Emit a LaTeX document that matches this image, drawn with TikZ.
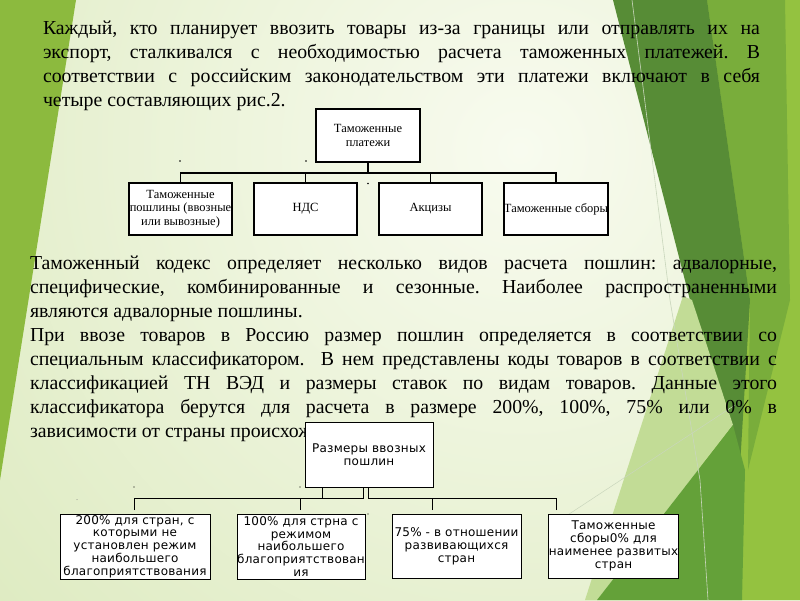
\documentclass[tikz,border=0pt]{standalone}
\usepackage{fontspec}
\setmainfont{Liberation Serif}
\newfontfamily\dejavu[LetterSpace=2]{DejaVu Sans}
\definecolor{bgin}{HTML}{F8FBEF}
\definecolor{bgout}{HTML}{D3E4AE}
\definecolor{leafL}{HTML}{8CBA3E}
\definecolor{darkG}{HTML}{578C36}
\definecolor{medG}{HTML}{79AD3B}
\definecolor{yelG}{HTML}{94C240}
\definecolor{lightW}{HTML}{C2DC96}
\definecolor{midG}{HTML}{64A139}
\definecolor{thinL}{HTML}{C9D6BC}
\frenchspacing
\begin{document}
\begin{tikzpicture}[x=1pt,y=-1pt,
  every node/.style={inner sep=0pt, outer sep=0pt},
  mainline/.style={anchor=base west, font=\fontsize{19.8}{24}\selectfont, text=black},
  boxA/.style={draw, line width=1.8pt, fill=white, font=\fontsize{12.5}{13.5}\selectfont, align=center},
  boxB/.style={draw, line width=0.9pt, fill=white, font=\dejavu\fontsize{12}{12.8}\selectfont, align=center},
  linkA/.style={line width=1.8pt},
  linkB/.style={line width=0.9pt}]

\useasboundingbox (0,0) rectangle (800,600);
% background
\begin{scope}
\clip (0,0) rectangle (800,600);
\shade[inner color=bgin, outer color=bgout] (-480,-850) rectangle (1520,1150);
\fill[leafL] (0,0) -- (76,0) -- (0,480) -- cycle;
\fill[yelG] (700,0) -- (800,0) -- (800,600) -- (700,600) -- cycle;
\fill[medG] (707,0) -- (785,0) -- (790,300) -- (748,470) -- (750,300) -- cycle;
\fill[darkG] (613,0) -- (707,0) -- (750,300) -- (740,466) -- (690,300) -- cycle;
\fill[lightW] (683,296) -- (692,300) -- (733,425) -- (597,600) -- (585,600) -- cycle;
\fill[midG] (597,600) -- (733,425) -- (745,470) -- (742,600) -- cycle;
\draw[thinL, line width=0.6pt] (632,0) -- (670,300) -- (700,480) -- (708,600);
\draw[thinL, line width=0.5pt] (560,520) -- (735,405);
\end{scope}

% top paragraph
\node[mainline] (p1a) at (43,34) {\hbox to 717pt{Каждый, кто планирует ввозить товары из-за границы или отправлять их на}};
\node[mainline] (p1b) at (43,58.2) {\hbox to 717pt{экспорт, сталкивался с необходимостью расчета таможенных платежей. В}};
\node[mainline] (p1c) at (43,82.4) {\hbox to 717pt{соответствии с российским законодательством эти платежи включают в себя}};
\node[mainline] (p1d) at (43,106.6) {четыре составляющих рис.2.};

% middle paragraphs
\node[mainline] (p2a) at (30,269.5) {\hbox to 747pt{Таможенный кодекс определяет несколько видов расчета пошлин: адвалорные,}};
\node[mainline] (p2b) at (30,293.5) {\hbox to 747pt{специфические, комбинированные и сезонные. Наиболее распространенными}};
\node[mainline] (p2c) at (30,317.5) {являются адвалорные пошлины.};
\node[mainline] (p2d) at (30,341.5) {\hbox to 747pt{При ввозе товаров в Россию размер пошлин определяется в соответствии со}};
\node[mainline] (p2e) at (30,365.5) {\hbox to 747pt{специальным классификатором.\ \ В нем представлены коды товаров в соответствии с}};
\node[mainline] (p2f) at (30,389.5) {\hbox to 747pt{классификацией ТН ВЭД и размеры ставок по видам товаров. Данные этого}};
\node[mainline] (p2g) at (30,413.5) {\hbox to 747pt{классификатора берутся для расчета в размере 200\%, 100\%, 75\% или 0\% в}};
\node[mainline] (p2h) at (30,437.5) {зависимости от страны происхож};

% chart 1
\node[boxA, minimum width=104pt, minimum height=53pt] (t1) at (368,135.5) {Таможенные\\платежи};
\node[boxA, minimum width=103pt, minimum height=52pt] (c1) at (180.5,209) {Таможенные\\пошлины (ввозные\\или вывозные)};
\node[boxA, minimum width=103pt, minimum height=52pt] (c2) at (305.5,209) {НДС};
\node[boxA, minimum width=103pt, minimum height=52pt] (c3) at (430.5,209) {Акцизы};
\node[boxA, minimum width=104pt, minimum height=52pt] (c4) at (556,209) {Таможенные сборы};
\coordinate (bus1) at (368,173);
\draw[linkA] (t1.south) -- (bus1);
\draw[linkA] (c1.north) |- (bus1);
\draw[linkA] (c2.north) |- (bus1);
\draw[linkA] (c3.north) |- (bus1);
\draw[linkA] (c4.north) |- (bus1);
\fill (180,161) circle (0.9);
\fill (306,161) circle (0.9);
\fill (368,183.5) circle (0.9);

% chart 2
\node[boxB, minimum width=128pt, minimum height=65pt] (t2) at (369,454.5) {Размеры ввозных\\пошлин};
\node[boxB, minimum width=150pt, minimum height=65pt] (bA) at (135,546.5) {200\% для стран, с\\которыми не\\установлен режим\\наибольшего\\благоприятствования};
\node[boxB, minimum width=128pt, minimum height=65pt] (bB) at (301,546.5) {100\% для стрна с\\режимом\\наибольшего\\благоприятствован\\ия};
\node[boxB, minimum width=129pt, minimum height=64pt] (bC) at (456.5,546) {75\% - в отношении\\развивающихся\\стран};
\node[boxB, minimum width=129pt, minimum height=64pt] (bD) at (613.5,546) {Таможенные\\сборы0\% для\\наименее развитых\\стран};
\coordinate (bl) at (363,498.5);
\coordinate (br) at (368.5,498.5);
\coordinate (bm) at (322,498.5);
\coordinate (dA) at (134,510);
\coordinate (dB) at (300,510);
\coordinate (dC) at (432,510);
\coordinate (dD) at (556,510);
\draw[linkB] (t2.south -| bl) -- (bl);
\draw[linkB] (t2.south -| bm) -- (bm);
\draw[linkB] (t2.south -| br) -- (br);
\draw[linkB] (dA) |- (bl);
\draw[linkB] (dB) |- (bl);
\draw[linkB] (dC) |- (br);
\draw[linkB] (dD) |- (br);
\fill (134,487) circle (0.6);
\fill (300,487) circle (0.6);
\fill (368,514) circle (0.6);
\fill[gray] (77,499.5) circle (0.5);
\end{tikzpicture}
\end{document}
